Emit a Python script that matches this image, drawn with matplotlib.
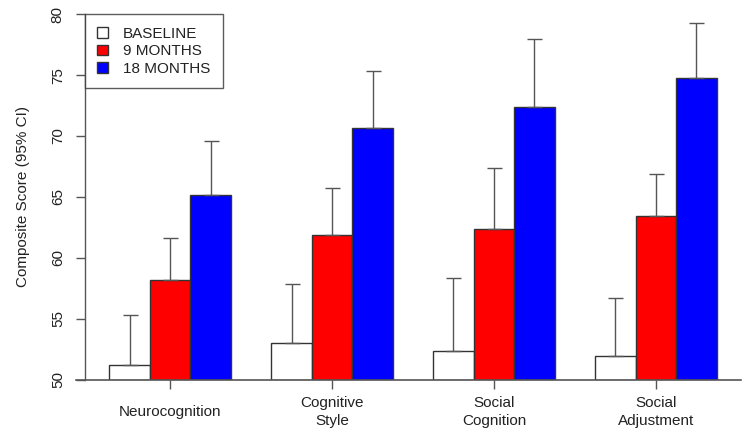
import matplotlib
matplotlib.use("Agg")
import matplotlib.pyplot as plt
import numpy as np

plt.rcParams['font.family'] = ['Liberation Sans', 'DejaVu Sans']

categories = ["Neurocognition", "Cognitive\nStyle", "Social\nCognition", "Social\nAdjustment"]
series_names = ["BASELINE", "9 MONTHS", "18 MONTHS"]
colors = ["#FFFFFF", "#FF0000", "#0000FF"]
baseline = [51.2, 53.0, 52.35, 51.9]
m9 = [58.15, 61.85, 62.4, 63.4]
m18 = [65.15, 70.7, 72.4, 74.8]
baseline_up = [55.3, 57.85, 58.35, 56.7]
m9_up = [61.6, 65.7, 67.35, 66.9]
m18_up = [69.6, 75.35, 77.95, 79.3]

values = [baseline, m9, m18]
uppers = [baseline_up, m9_up, m18_up]

fig = plt.figure(figsize=(7.43, 4.32), dpi=100)
W, H = 743, 432
left, right, top, bottom = 85, 741, 14.3, 379.5
ax = fig.add_axes([left / W, 1 - bottom / H, (right - left) / W, (bottom - top) / H])

gray = "#555555"
edge = "#333333"
fs = 11
ncat = len(categories)
handles = []
for s in range(3):
    xs = [1.5 + s + 4 * g for g in range(ncat)]
    b = ax.bar(xs, np.array(values[s]) - 50, bottom=50, width=1.0, color=colors[s],
               edgecolor=edge, linewidth=1.0, zorder=2, label=series_names[s])
    handles.append(b)
    err = np.array(uppers[s]) - np.array(values[s])
    ax.errorbar(xs, values[s], yerr=[np.zeros(ncat), err], fmt='none', ecolor=gray,
                elinewidth=1.0, capsize=5.4, capthick=1.0, zorder=3)

ax.set_xlim(0.4, 16.6)
ax.set_ylim(50, 80)
for sp in ['top', 'right', 'bottom']:
    ax.spines[sp].set_visible(False)
ax.spines['left'].set_color(gray)
ax.spines['left'].set_linewidth(1.0)
ax.plot([0.18, 16.6], [50, 50], color=gray, lw=1.2, clip_on=False, zorder=4)

ax.set_yticks([50, 55, 60, 65, 70, 75, 80])
ax.set_yticklabels(["50", "55", "60", "65", "70", "75", "80"], rotation=90, va='center')
centers = [2.5 + 4 * g for g in range(ncat)]
ax.set_xticks(centers)
ax.set_xticklabels(categories, va='center', linespacing=1.4)
ax.tick_params(axis='y', direction='out', length=6.5, width=1.0, color=gray, pad=8, labelsize=fs, labelcolor='#222222')
ax.tick_params(axis='x', direction='out', length=6.5, width=1.0, color=gray, pad=17, labelsize=fs, labelcolor='#222222')
ax.set_ylabel("Composite Score (95% CI)", fontsize=fs, color='#222222', labelpad=15)

leg = ax.legend(handles=handles, loc='upper left', bbox_to_anchor=(0, 1), borderaxespad=0,
                fancybox=False, frameon=True, edgecolor=edge, fontsize=fs,
                handlelength=0.7, handleheight=0.7, handletextpad=1.0,
                borderpad=0.8, labelspacing=0.25)
leg.get_frame().set_linewidth(1.0)
for t in leg.get_texts():
    t.set_color('#222222')

fig.savefig("out.png", dpi=100)
